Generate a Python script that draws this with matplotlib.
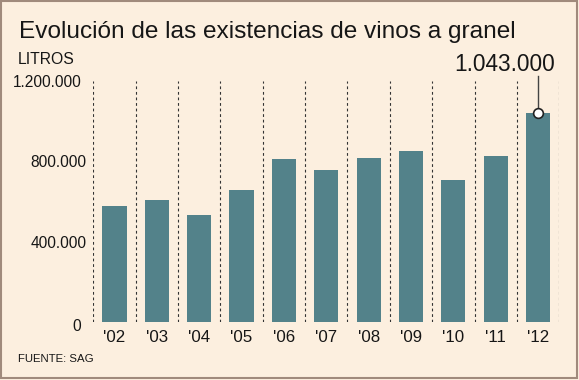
import matplotlib
matplotlib.use("Agg")
import matplotlib.pyplot as plt
import matplotlib.transforms as mtransforms
from matplotlib.patches import Rectangle

# datos (litros)
years = ["'02", "'03", "'04", "'05", "'06", "'07", "'08", "'09", "'10", "'11", "'12"]
litros = [576000, 606000, 531000, 656000, 810000, 756000, 815000, 850000, 707000, 825000, 1043000]
yticks = [0, 400000, 800000, 1200000]
ytick_labels = ["0", "400.000", "800.000", "1.200.000"]

BG = "#fcefdf"
BAR = "#53828a"
TXT = "#161616"

plt.rcParams['font.family'] = ['Liberation Sans', 'DejaVu Sans']

fig = plt.figure(figsize=(5.79, 3.80), dpi=100, facecolor=BG)
ax = fig.add_axes([93.3 / 579, 58 / 380, 466 / 579, 241 / 380])
ax.set_facecolor(BG)

x = list(range(len(years)))
ax.bar(x, litros, width=0.57, color=BAR, zorder=2)

# lineas punteadas entre barras
for b in range(len(years) + 1):
    ax.axvline(b - 0.5, color="#333333", lw=0.8, ls=(0, (2.5, 2.5)), zorder=1)

ax.set_xlim(-0.5, len(years) - 0.5)
ax.set_ylim(0, 1200000)
ax.set_xticks(x)
ax.set_xticklabels(years, fontsize=12.2)
ax.set_yticks(yticks)
ax.set_yticklabels(ytick_labels, fontsize=11.2)
ax.tick_params(axis="both", length=0, colors=TXT)
ax.tick_params(axis="y", pad=5)
ax.tick_params(axis="x", pad=6)
for s in ax.spines.values():
    s.set_visible(False)

# en el original "0" y "1.200.000" quedan algo mas a la izquierda
ylabs = ax.get_yticklabels()
for i in (0, 3):
    ylabs[i].set_transform(ylabs[i].get_transform() +
                           mtransforms.ScaledTranslation(-5 / 100, -3 / 100 if i == 0 else 0,
                                                         fig.dpi_scale_trans))

# destacado del ultimo valor
last = len(years) - 1
ax.plot([last, last], [litros[last], 1225000], color="#444444", lw=1.0,
        clip_on=False, zorder=3)
ax.plot(last, litros[last], "o", ms=7, mfc="white", mec="#222222", mew=1.2,
        clip_on=False, zorder=4)
ax.text(last + 0.39, 1250000, "1.043.000", ha="right", va="baseline",
        fontsize=16.3, color=TXT)

fig.text(19 / 579, 1 - 37.7 / 380, "Evolución de las existencias de vinos a granel",
         fontsize=17.6, color=TXT, va="baseline", ha="left")
fig.text(18 / 579, 1 - 64 / 380, "LITROS", fontsize=11.3, color=TXT,
         va="baseline", ha="left")
fig.text(18 / 579, 1 - 361.7 / 380, "FUENTE: SAG", fontsize=8.2, color=TXT,
         va="baseline", ha="left")

# marco
fig.patches.append(Rectangle((1 / 579, 2 / 380), 576 / 579, 377 / 380,
                             transform=fig.transFigure, fill=False,
                             ec="#a08a7c", lw=1.5))

fig.savefig("out.png", dpi=100, facecolor=BG)
